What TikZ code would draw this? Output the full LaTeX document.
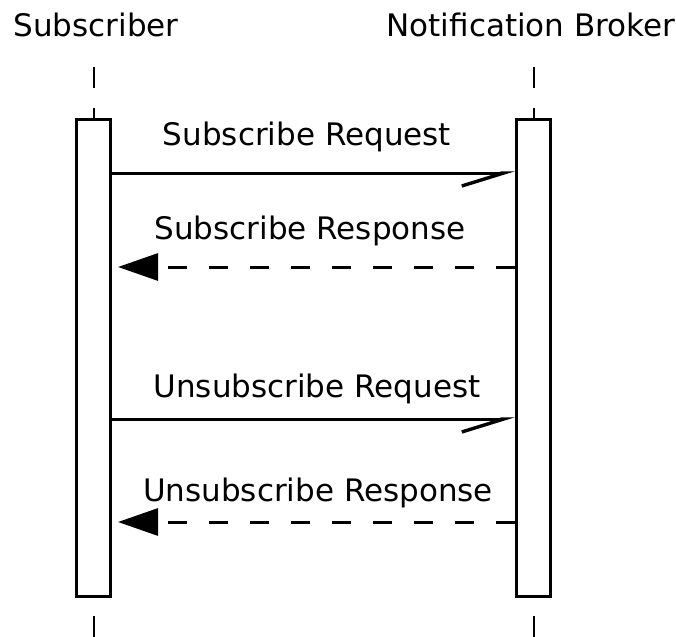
\documentclass[tikz,border=0pt]{standalone}
\usepackage{fontspec}
\setmainfont{DejaVu Sans}
\usetikzlibrary{positioning,arrows.meta}

\begin{document}
\begin{tikzpicture}[
    x=0.5pt, y=0.5pt,
    every node/.style={font=\fontsize{15.5}{18}\selectfont, inner sep=0pt},
    actor/.style={anchor=base},
    lifeline/.style={line width=1pt, dash pattern=on 10.5pt off 10pt},
    actbox/.style={draw, line width=1.5pt, fill=white, minimum width=17pt, minimum height=238.5pt},
    request/.style={line width=1.5pt, -{Straight Barb[harpoon, swap, length=21pt, width=13pt, line width=1.7pt]}},
    response/.style={line width=1.5pt, dash pattern=on 9.5pt off 11pt, shorten >=3pt, -{Triangle[length=20pt, width=13.5pt]}},
    msglabel/.style={anchor=base}
  ]

\useasboundingbox (0,0) rectangle (676,-637);

% participants
\node[actor] (sub) at (96,-37) {Subscriber};
\node[actor] (broker) at (531,-37) {Notification Broker};

\coordinate (subtop) at (93.5,-67);
\coordinate (brokertop) at (533.5,-67);
\coordinate (subend) at (93.5,-637);
\coordinate (brokerend) at (533.5,-637);

% activation boxes
\node[actbox] (subbox) at (93.5,-358) {};
\node[actbox] (brokerbox) at (533.5,-358) {};

% lifelines
\draw[lifeline] (subtop) -- (subbox.north);
\draw[lifeline] (brokertop) -- (brokerbox.north);
\draw[lifeline, dash phase=11.5pt] (subbox.south) -- (subend);
\draw[lifeline, dash phase=11.5pt] (brokerbox.south) -- (brokerend);

% messages
\coordinate (m1) at (0,-173);
\coordinate (m2) at (0,-267);
\coordinate (m3) at (0,-419);
\coordinate (m4) at (0,-522);

\draw[request] (subbox.east |- m1) -- (brokerbox.west |- m1);
\draw[response] (brokerbox.west |- m2) -- (subbox.east |- m2);
\draw[request] (subbox.east |- m3) -- (brokerbox.west |- m3);
\draw[response] (brokerbox.west |- m4) -- (subbox.east |- m4);

\node[msglabel] (l1) at (307,-145) {Subscribe Request};
\node[msglabel] (l2) at (310,-239) {Subscribe Response};
\node[msglabel] (l3) at (317,-397) {Unsubscribe Request};
\node[msglabel] (l4) at (318,-501) {Unsubscribe Response};

\end{tikzpicture}
\end{document}
